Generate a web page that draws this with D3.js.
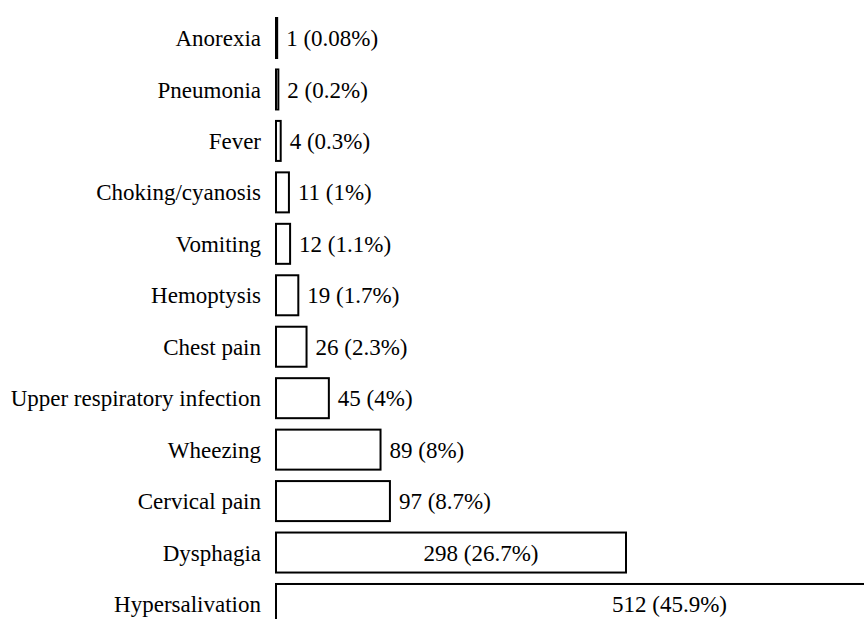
<!DOCTYPE html>
<html>
<head>
<meta charset="utf-8">
<script src="https://cdn.jsdelivr.net/npm/d3@7"></script>
</head>
<body>
<script>
const SYMPTOMS = ["Anorexia", "Pneumonia", "Fever", "Choking/cyanosis", "Vomiting", "Hemoptysis",
  "Chest pain", "Upper respiratory infection", "Wheezing", "Cervical pain", "Dysphagia", "Hypersalivation"];
const COUNTS = [1, 2, 4, 11, 12, 19, 26, 45, 89, 97, 298, 512];
const PERCENTS = ["0.08%", "0.2%", "0.3%", "1%", "1.1%", "1.7%", "2.3%", "4%", "8%", "8.7%", "26.7%", "45.9%"];

var width = 864, height = 619;
var left = 276;

d3.select("body").style("margin", "0px");

var svg = d3.select("body")
  .append("svg")
  .attr("width", width)
  .attr("height", height)
  .style("display", "block");

var x = d3.scaleLinear()
  .domain([0, 298])
  .range([left, 626]);

var y = d3.scaleBand()
  .domain(SYMPTOMS)
  .range([12.3, 629.7])
  .paddingInner(0.2225)
  .paddingOuter(0.111);

var rows = svg.append("g").selectAll("g")
  .data(SYMPTOMS)
  .enter()
  .append("g");

rows.append("rect")
  .attr("x", x(0))
  .attr("y", function(d) { return y(d); })
  .attr("width", function(d, i) { return x(COUNTS[i]) - x(0); })
  .attr("height", y.bandwidth())
  .attr("fill", "white")
  .attr("stroke", "black")
  .attr("stroke-width", 2);

rows.append("text")
  .text(function(d) { return d; })
  .attr("x", left - 15)
  .attr("y", function(d) { return y(d) + y.bandwidth() / 2; })
  .attr("dy", "0.35em")
  .attr("font-size", 23)
  .style("font-family", "'Liberation Serif', monospace")
  .style("text-anchor", "end");

// big bars carry the label inside, the rest right after the bar
rows.append("text")
  .text(function(d, i) { return COUNTS[i] + " (" + PERCENTS[i] + ")"; })
  .attr("x", function(d, i) {
    if (COUNTS[i] > 200) return x(COUNTS[i] * 0.75);
    return x(COUNTS[i]) + 9;
  })
  .attr("y", function(d) { return y(d) + y.bandwidth() / 2; })
  .attr("dy", "0.35em")
  .attr("font-size", 23)
  .style("font-family", "'Liberation Serif', monospace")
  .style("text-anchor", function(d, i) { return COUNTS[i] > 200 ? "end" : "start"; });
</script>
</body>
</html>
